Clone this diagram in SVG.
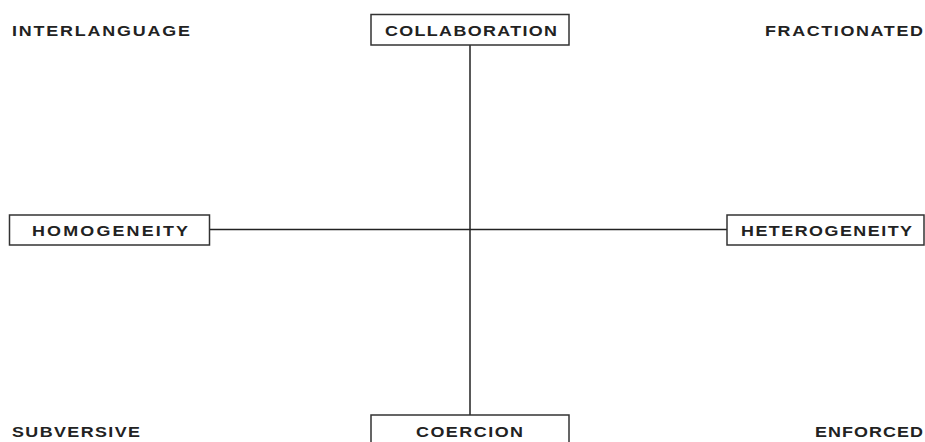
<svg xmlns="http://www.w3.org/2000/svg" width="925" height="442" viewBox="0 0 925 442">
<style>
.t{font-family:"Liberation Sans",Arial,sans-serif;font-weight:bold;font-size:14px;fill:#222}
.b{fill:#fff;stroke:#333;stroke-width:1.5}
.c{stroke:#222;stroke-width:1.5;fill:none}
</style>
<rect width="925" height="442" fill="#fff"/>
<g id="connectors">
<line class="c" x1="470" y1="45" x2="470" y2="415"/>
<line class="c" x1="209" y1="229.5" x2="727" y2="229.5" stroke-width="1.2"/>
</g>
<g id="interlanguage"><text class="t" transform="translate(12,35.5) scale(1.28,1)" textLength="139" lengthAdjust="spacing">INTERLANGUAGE</text></g>
<g id="collaboration"><rect class="b" x="371" y="14.5" width="198" height="30.5"/><text class="t" transform="translate(385,35.5) scale(1.28,1)" textLength="134.4" lengthAdjust="spacing">COLLABORATION</text></g>
<g id="fractionated"><text class="t" transform="translate(765,35.5) scale(1.28,1)" textLength="123.4" lengthAdjust="spacing">FRACTIONATED</text></g>
<g id="homogeneity"><rect class="b" x="9.5" y="215" width="200" height="30"/><text class="t" transform="translate(32,235.5) scale(1.28,1)" textLength="121.9" lengthAdjust="spacing">HOMOGENEITY</text></g>
<g id="heterogeneity"><rect class="b" x="727" y="215" width="197" height="30"/><text class="t" transform="translate(741,235.5) scale(1.28,1)" textLength="133.6" lengthAdjust="spacing">HETEROGENEITY</text></g>
<g id="subversive"><text class="t" transform="translate(12,436.5) scale(1.28,1)" textLength="100" lengthAdjust="spacing">SUBVERSIVE</text></g>
<g id="coercion"><rect class="b" x="371" y="415" width="198" height="40"/><text class="t" transform="translate(416,436.5) scale(1.28,1)" textLength="83.6" lengthAdjust="spacing">COERCION</text></g>
<g id="enforced"><text class="t" transform="translate(815,436.5) scale(1.28,1)" textLength="84.4" lengthAdjust="spacing">ENFORCED</text></g>
</svg>
